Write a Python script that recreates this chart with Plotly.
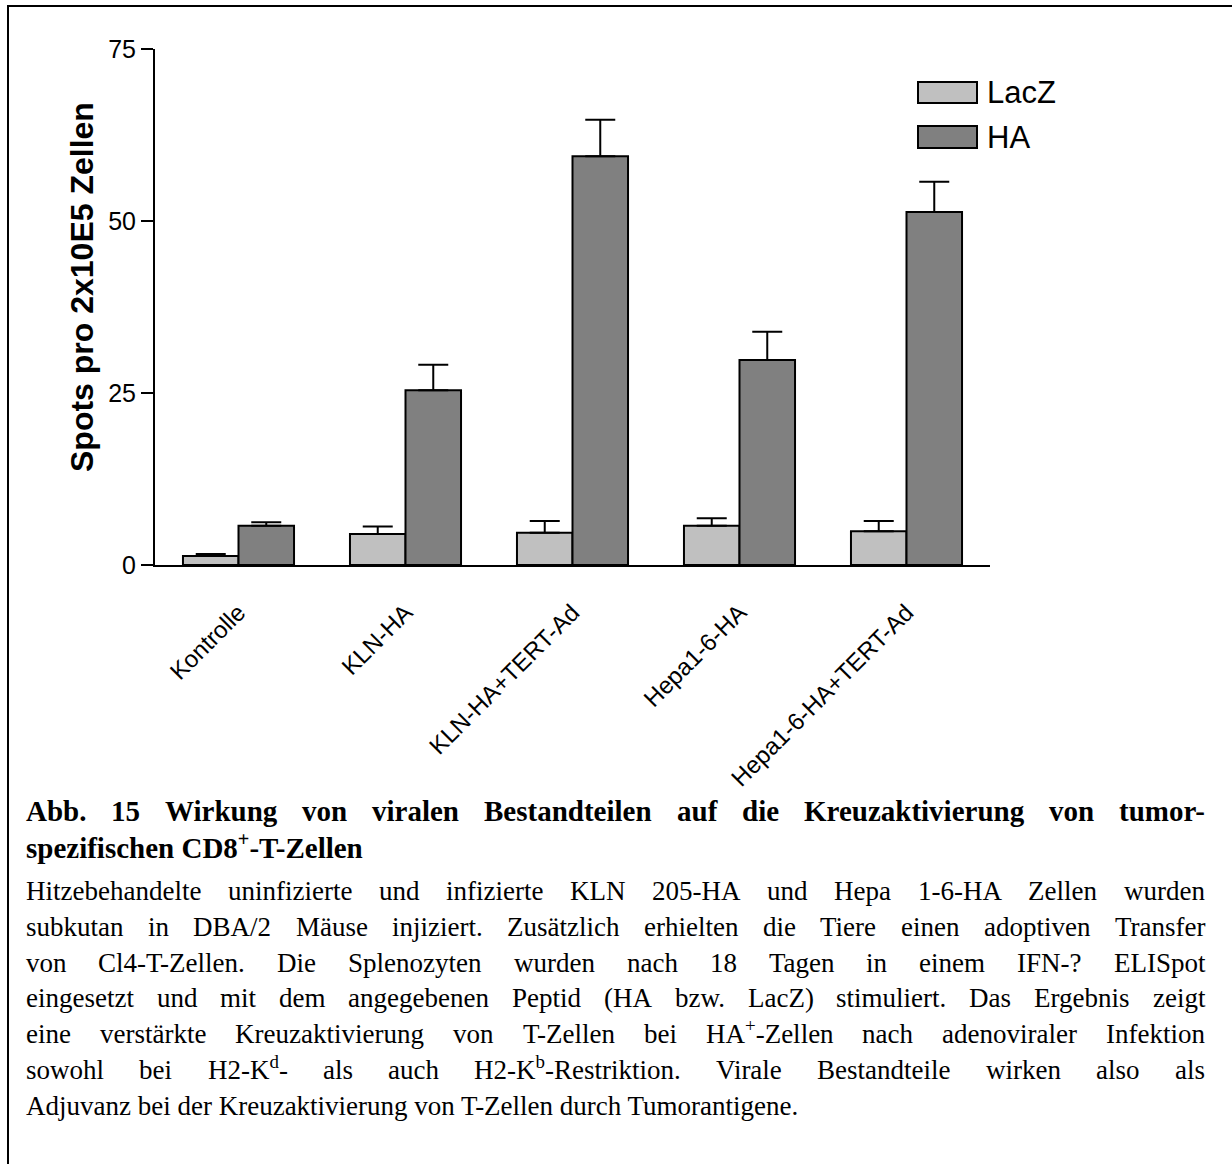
import glob
import re
import plotly.graph_objects as go

# ---------------- data ----------------
categories = ["Kontrolle", "KLN-HA", "KLN-HA+TERT-Ad", "Hepa1-6-HA", "Hepa1-6-HA+TERT-Ad"]
lacz_values = [1.3, 4.5, 4.7, 5.7, 4.9]
lacz_errors = [0.3, 1.1, 1.7, 1.1, 1.5]
ha_values = [5.7, 25.4, 59.4, 29.8, 51.3]
ha_errors = [0.5, 3.7, 5.3, 4.1, 4.4]
y_tick_values = [0, 25, 50, 75]
y_axis_title = "Spots pro 2x10E5 Zellen"
series_names = ["LacZ", "HA"]

caption_title_lines = [
    "Abb. 15 Wirkung von viralen Bestandteilen auf die Kreuzaktivierung von tumor-",
    "spezifischen CD8<sup>+</sup>-T-Zellen",
]
caption_body_lines = [
    "Hitzebehandelte uninfizierte und infizierte KLN 205-HA und Hepa 1-6-HA Zellen wurden",
    "subkutan in DBA/2 Mäuse injiziert. Zusätzlich erhielten die Tiere einen adoptiven Transfer",
    "von Cl4-T-Zellen. Die Splenozyten wurden nach 18 Tagen in einem IFN-? ELISpot",
    "eingesetzt und mit dem angegebenen Peptid (HA bzw. LacZ) stimuliert. Das Ergebnis zeigt",
    "eine verstärkte Kreuzaktivierung von T-Zellen bei HA<sup>+</sup>-Zellen nach adenoviraler Infektion",
    "sowohl bei H2-K<sup>d</sup>- als auch H2-K<sup>b</sup>-Restriktion. Virale Bestandteile wirken also als",
    "Adjuvanz bei der Kreuzaktivierung von T-Zellen durch Tumorantigene.",
]

# ---------------- layout constants ----------------
W, H = 1232, 1164
LACZ_COLOR = "#c0c0c0"
HA_COLOR = "#808080"
SANS = "Liberation Sans, Arial, sans-serif"
SERIF = "Liberation Serif, Times New Roman, serif"


def px(x):
    return x / W


def py(y):
    return 1 - y / H


# ---------------- text measurement (for justified caption) ----------------
def find_font(name):
    hits = glob.glob("/usr/share/fonts/**/" + name, recursive=True)
    return hits[0] if hits else None


FONTS = {}
try:
    from PIL import ImageFont
    for key, fname in [("reg", "LiberationSerif-Regular.ttf"), ("bold", "LiberationSerif-Bold.ttf")]:
        p = find_font(fname)
        if p:
            FONTS[key] = ImageFont.truetype(p, 100)
except Exception:
    FONTS = {}


def segments(word):
    out = []
    for part in re.split(r"(<sup>.*?</sup>)", word):
        if part.startswith("<sup>"):
            out.append((part[5:-6], True))
        elif part:
            out.append((part, False))
    return out


def measure(word, size, key):
    total = 0.0
    for t, sup in segments(word):
        s = size * 0.7 if sup else size
        f = FONTS.get(key)
        if f is not None:
            total += f.getlength(t) * s / 100.0
        else:
            total += len(t) * (0.47 if key == "bold" else 0.43) * s
    return total


LEFT, RIGHT = 26, 1205
annotations = []


def add_line(line, y_center, size, key, justify):
    weight = "bold" if key == "bold" else "normal"
    y_bottom = y_center + 0.55 * size
    common = dict(xref="paper", yref="paper", xanchor="left", yanchor="bottom",
                  showarrow=False, borderpad=0, borderwidth=0,
                  font=dict(family=SERIF, size=size, color="black", weight=weight))
    if not justify:
        annotations.append(dict(x=px(LEFT), y=py(y_bottom), text=line, **common))
        return
    words = line.split(" ")
    widths = [measure(w, size, key) for w in words]
    gap = (RIGHT - LEFT - sum(widths)) / (len(words) - 1)
    x = LEFT
    for w, wd in zip(words, widths):
        annotations.append(dict(x=px(x), y=py(y_bottom), text=w, **common))
        x += wd + gap


TITLE_SIZE = 29
BODY_SIZE = 27
title_centers = [811, 848]
body_centers = [891, 927, 963, 998, 1034, 1070, 1106]
for i, line in enumerate(caption_title_lines):
    add_line(line, title_centers[i], TITLE_SIZE, "bold", justify=(i == 0))
for i, line in enumerate(caption_body_lines):
    add_line(line, body_centers[i], BODY_SIZE, "reg", justify=(i < len(caption_body_lines) - 1))

# ---------------- chart ----------------
fig = go.Figure()
fig.add_trace(go.Bar(
    name=series_names[0], x=categories, y=lacz_values,
    marker=dict(color=LACZ_COLOR, line=dict(color="black", width=2)),
    error_y=dict(type="data", array=lacz_errors, arrayminus=[0] * len(lacz_errors),
                 symmetric=False, color="black", thickness=2, width=15),
))
fig.add_trace(go.Bar(
    name=series_names[1], x=categories, y=ha_values,
    marker=dict(color=HA_COLOR, line=dict(color="black", width=2)),
    error_y=dict(type="data", array=ha_errors, arrayminus=[0] * len(ha_errors),
                 symmetric=False, color="black", thickness=2, width=15),
))

# y axis title
annotations.append(dict(
    x=px(82), y=py(287), xref="paper", yref="paper", xanchor="center", yanchor="middle",
    text=y_axis_title, textangle=-90, showarrow=False,
    font=dict(family=SANS, size=32, color="black", weight="bold")))

# legend (manual, wide swatches)
shapes = []
legend_rows = [(series_names[0], LACZ_COLOR, 82, 103), (series_names[1], HA_COLOR, 126, 148)]
for name, col, y0, y1 in legend_rows:
    shapes.append(dict(type="rect", xref="paper", yref="paper",
                       x0=px(918), x1=px(977), y0=py(y1), y1=py(y0),
                       fillcolor=col, line=dict(color="black", width=2)))
    annotations.append(dict(
        x=px(985), y=py((y0 + y1) / 2), xref="paper", yref="paper",
        xanchor="left", yanchor="middle", text=name, showarrow=False,
        font=dict(family=SANS, size=31, color="black")))

# page border (top and left edges visible)
shapes.append(dict(type="rect", xref="paper", yref="paper",
                   x0=px(8), x1=1.05, y0=-0.05, y1=py(6),
                   line=dict(color="black", width=2), fillcolor="rgba(0,0,0,0)"))

fig.update_layout(
    width=W, height=H, autosize=False,
    margin=dict(l=0, r=0, t=0, b=0, pad=0),
    paper_bgcolor="white", plot_bgcolor="white",
    barmode="group", bargap=0.335, bargroupgap=0.0,
    showlegend=False,
    xaxis=dict(domain=[px(155), px(990)], range=[-0.5, 4.5], automargin=False,
               showline=True, linecolor="black", linewidth=2,
               ticks="", tickangle=-45, showgrid=False, zeroline=False,
               ticklabelstandoff=22,
               tickfont=dict(family=SANS, size=24, color="black")),
    yaxis=dict(domain=[py(565), py(49)], range=[0, 75], automargin=False,
               tickvals=y_tick_values, showline=True, linecolor="black", linewidth=2,
               ticks="outside", ticklen=12, tickwidth=2, tickcolor="black",
               showgrid=False, zeroline=False,
               tickfont=dict(family=SANS, size=25, color="black")),
    annotations=annotations,
    shapes=shapes,
)

fig.write_html("out.html")
